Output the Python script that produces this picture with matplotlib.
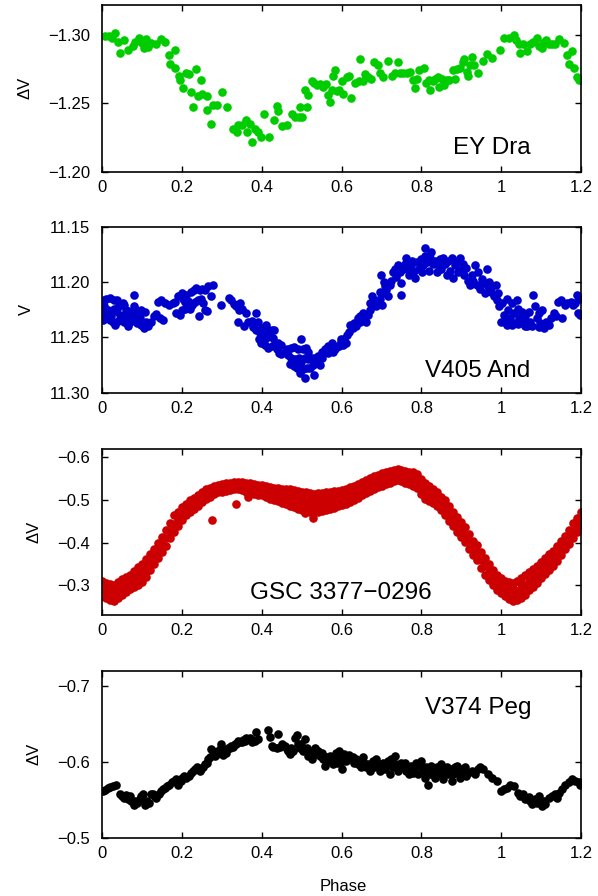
import matplotlib
matplotlib.use('Agg')
import matplotlib.pyplot as plt

plt.rcParams['font.family'] = ['Liberation Sans', 'DejaVu Sans']
plt.rcParams['font.size'] = 12

# EY Dra: (phase, delta V)
ey_dra = [
    (0.007, -1.299), (0.017, -1.299), (0.025, -1.298), (0.032, -1.301), (0.040, -1.295),
    (0.045, -1.287), (0.053, -1.296), (0.065, -1.289), (0.076, -1.292), (0.082, -1.295),
    (0.091, -1.298), (0.099, -1.294), (0.103, -1.290), (0.109, -1.297), (0.115, -1.291),
    (0.122, -1.294), (0.133, -1.293), (0.146, -1.297), (0.157, -1.295), (0.168, -1.285),
    (0.170, -1.279), (0.181, -1.289), (0.181, -1.276), (0.191, -1.270), (0.195, -1.267),
    (0.202, -1.261), (0.210, -1.272), (0.216, -1.271), (0.223, -1.258), (0.227, -1.247),
    (0.235, -1.275), (0.239, -1.255), (0.247, -1.267), (0.250, -1.257), (0.261, -1.255),
    (0.262, -1.245), (0.271, -1.235), (0.276, -1.249), (0.288, -1.249), (0.301, -1.258),
    (0.313, -1.247), (0.328, -1.231), (0.338, -1.229), (0.340, -1.234), (0.351, -1.234),
    (0.360, -1.238), (0.363, -1.229), (0.371, -1.235), (0.376, -1.222), (0.382, -1.231),
    (0.391, -1.229), (0.397, -1.225), (0.405, -1.242), (0.417, -1.225), (0.429, -1.238),
    (0.437, -1.248), (0.440, -1.244), (0.451, -1.233), (0.462, -1.234), (0.475, -1.242),
    (0.484, -1.240), (0.494, -1.240), (0.496, -1.247), (0.500, -1.240), (0.508, -1.260),
    (0.512, -1.247), (0.516, -1.256), (0.525, -1.266), (0.531, -1.265), (0.537, -1.263),
    (0.546, -1.264), (0.554, -1.262), (0.561, -1.264), (0.566, -1.256), (0.571, -1.251),
    (0.575, -1.260), (0.579, -1.270), (0.583, -1.274), (0.587, -1.259), (0.594, -1.260),
    (0.600, -1.266), (0.604, -1.257), (0.613, -1.269), (0.619, -1.270), (0.623, -1.254),
    (0.634, -1.265), (0.644, -1.266), (0.646, -1.282), (0.653, -1.266), (0.659, -1.271),
    (0.667, -1.269), (0.673, -1.268), (0.681, -1.280), (0.690, -1.278), (0.696, -1.272),
    (0.703, -1.269), (0.715, -1.281), (0.726, -1.270), (0.734, -1.272), (0.740, -1.280),
    (0.746, -1.272), (0.755, -1.272), (0.763, -1.272), (0.772, -1.273), (0.778, -1.267),
    (0.784, -1.261), (0.790, -1.268), (0.795, -1.274), (0.807, -1.276), (0.812, -1.265),
    (0.818, -1.267), (0.822, -1.260), (0.829, -1.266), (0.834, -1.268), (0.841, -1.269),
    (0.845, -1.262), (0.851, -1.268), (0.857, -1.263), (0.864, -1.267), (0.870, -1.267),
    (0.879, -1.274), (0.885, -1.268), (0.890, -1.275), (0.897, -1.276), (0.904, -1.280),
    (0.907, -1.282), (0.914, -1.273), (0.918, -1.270), (0.922, -1.278), (0.926, -1.284),
    (0.932, -1.278), (0.941, -1.272), (0.954, -1.281), (0.964, -1.286), (0.977, -1.283),
    (0.998, -1.289), (1.008, -1.298), (1.019, -1.298), (1.031, -1.300), (1.036, -1.296),
    (1.044, -1.293), (1.048, -1.287), (1.055, -1.293), (1.065, -1.288), (1.073, -1.293),
    (1.081, -1.295), (1.091, -1.298), (1.096, -1.292), (1.102, -1.290), (1.108, -1.295),
    (1.113, -1.296), (1.119, -1.293), (1.127, -1.293), (1.136, -1.293), (1.144, -1.297),
    (1.157, -1.294), (1.165, -1.285), (1.169, -1.279), (1.178, -1.288), (1.183, -1.276),
    (1.190, -1.269), (1.196, -1.267),
]

# V405 And: (phase, V)
v405_and = [
    (0.003, 11.216), (0.009, 11.215), (0.018, 11.214), (0.030, 11.216), (0.037, 11.216),
    (0.001, 11.225), (0.005, 11.222), (0.013, 11.225), (0.022, 11.227), (0.028, 11.224),
    (0.034, 11.226), (0.040, 11.223), (0.051, 11.219), (0.055, 11.221), (0.059, 11.225),
    (0.065, 11.226), (0.072, 11.228), (0.079, 11.212), (0.080, 11.222), (0.085, 11.225),
    (0.089, 11.228), (0.097, 11.225), (0.106, 11.227), (0.001, 11.234), (0.009, 11.233),
    (0.018, 11.234), (0.026, 11.236), (0.032, 11.239), (0.039, 11.235), (0.047, 11.233),
    (0.055, 11.236), (0.064, 11.240), (0.070, 11.236), (0.079, 11.234), (0.087, 11.237),
    (0.096, 11.239), (0.104, 11.242), (0.114, 11.240), (0.122, 11.236), (0.129, 11.231),
    (0.135, 11.229), (0.143, 11.233), (0.152, 11.234), (0.005, 11.230), (0.022, 11.231),
    (0.043, 11.230), (0.059, 11.231), (0.076, 11.231), (0.093, 11.233), (0.110, 11.236),
    (0.139, 11.218), (0.146, 11.216), (0.156, 11.219), (0.166, 11.221), (0.177, 11.219),
    (0.183, 11.218), (0.189, 11.213), (0.196, 11.212), (0.202, 11.215), (0.208, 11.218),
    (0.215, 11.217), (0.185, 11.228), (0.194, 11.230), (0.199, 11.225), (0.206, 11.224),
    (0.219, 11.224), (0.225, 11.221), (0.231, 11.218), (0.240, 11.216), (0.246, 11.215),
    (0.252, 11.219), (0.230, 11.207), (0.235, 11.205), (0.244, 11.207), (0.250, 11.206),
    (0.256, 11.207), (0.265, 11.204), (0.271, 11.213), (0.277, 11.203), (0.241, 11.231),
    (0.256, 11.225), (0.263, 11.226), (0.199, 11.210), (0.210, 11.212), (0.223, 11.209),
    (0.298, 11.221), (0.317, 11.214), (0.323, 11.216), (0.330, 11.220), (0.336, 11.222),
    (0.342, 11.225), (0.346, 11.219), (0.349, 11.224), (0.339, 11.236), (0.361, 11.228),
    (0.365, 11.236), (0.374, 11.235), (0.385, 11.228), (0.391, 11.236), (0.355, 11.240),
    (0.378, 11.241), (0.386, 11.243), (0.399, 11.242), (0.411, 11.239), (0.416, 11.243),
    (0.424, 11.243), (0.431, 11.243), (0.395, 11.246), (0.403, 11.249), (0.409, 11.251),
    (0.420, 11.249), (0.428, 11.251), (0.392, 11.252), (0.397, 11.255), (0.407, 11.257),
    (0.416, 11.260), (0.424, 11.258), (0.432, 11.256), (0.441, 11.255), (0.447, 11.257),
    (0.437, 11.261), (0.442, 11.264), (0.449, 11.265), (0.458, 11.263), (0.464, 11.261),
    (0.474, 11.260), (0.481, 11.259), (0.491, 11.261), (0.498, 11.252), (0.504, 11.261),
    (0.511, 11.260), (0.516, 11.263), (0.466, 11.266), (0.474, 11.269), (0.483, 11.270),
    (0.487, 11.273), (0.493, 11.269), (0.499, 11.272), (0.508, 11.269), (0.516, 11.270),
    (0.525, 11.269), (0.533, 11.269), (0.541, 11.267), (0.550, 11.269), (0.470, 11.274),
    (0.481, 11.276), (0.489, 11.278), (0.495, 11.282), (0.504, 11.279), (0.512, 11.278),
    (0.520, 11.278), (0.529, 11.275), (0.537, 11.272), (0.546, 11.275), (0.508, 11.287),
    (0.531, 11.284), (0.551, 11.263), (0.558, 11.261), (0.566, 11.258), (0.575, 11.255),
    (0.583, 11.260), (0.592, 11.258), (0.598, 11.252), (0.604, 11.255), (0.566, 11.264),
    (0.577, 11.263),
    (0.582, 11.261), (0.590, 11.258), (0.597, 11.254), (0.603, 11.257), (0.607, 11.252),
    (0.611, 11.255), (0.613, 11.248), (0.619, 11.245), (0.622, 11.239), (0.628, 11.242),
    (0.632, 11.237), (0.636, 11.240), (0.640, 11.233), (0.645, 11.231), (0.647, 11.236),
    (0.653, 11.228), (0.657, 11.233), (0.661, 11.236), (0.666, 11.230), (0.670, 11.225),
    (0.672, 11.219), (0.676, 11.213), (0.681, 11.216), (0.687, 11.222), (0.691, 11.218),
    (0.695, 11.215), (0.697, 11.209), (0.701, 11.221), (0.703, 11.210), (0.708, 11.204),
    (0.712, 11.207), (0.716, 11.213), (0.720, 11.203), (0.699, 11.194), (0.706, 11.200),
    (0.724, 11.199), (0.729, 11.191), (0.733, 11.188), (0.737, 11.195), (0.741, 11.185),
    (0.745, 11.191), (0.748, 11.212), (0.750, 11.201), (0.754, 11.188), (0.758, 11.184),
    (0.762, 11.178), (0.765, 11.188), (0.768, 11.194), (0.773, 11.185), (0.776, 11.181),
    (0.781, 11.190), (0.785, 11.196), (0.790, 11.182), (0.793, 11.188), (0.798, 11.179),
    (0.802, 11.191), (0.804, 11.185), (0.808, 11.176), (0.810, 11.169), (0.815, 11.182),
    (0.818, 11.190), (0.821, 11.178), (0.825, 11.173), (0.829, 11.184), (0.833, 11.181),
    (0.838, 11.191), (0.842, 11.185), (0.846, 11.179), (0.850, 11.188), (0.855, 11.178),
    (0.859, 11.184), (0.863, 11.194), (0.867, 11.181), (0.871, 11.190), (0.876, 11.178),
    (0.880, 11.196), (0.884, 11.185), (0.888, 11.181), (0.892, 11.191), (0.897, 11.178),
    (0.901, 11.188), (0.905, 11.184), (0.907, 11.194), (0.913, 11.187), (0.918, 11.199),
    (0.922, 11.203), (0.926, 11.194), (0.930, 11.199), (0.934, 11.185), (0.939, 11.203),
    (0.943, 11.191), (0.947, 11.206), (0.951, 11.197), (0.955, 11.201), (0.960, 11.210),
    (0.964, 11.188), (0.966, 11.204), (0.970, 11.200), (0.975, 11.209), (0.978, 11.204),
    (0.983, 11.213), (0.986, 11.203), (0.989, 11.216), (0.993, 11.210), (0.995, 11.222),
    (1.002, 11.219), (1.006, 11.230), (1.010, 11.236), (1.014, 11.215), (1.018, 11.225),
    (1.023, 11.233), (1.027, 11.219), (1.031, 11.228), (1.035, 11.237), (1.039, 11.216),
    (1.042, 11.224), (1.045, 11.233), (1.052, 11.227), (1.056, 11.236), (1.060, 11.231),
    (1.065, 11.240), (1.069, 11.227), (1.073, 11.236), (1.079, 11.212), (1.084, 11.222),
    (1.090, 11.233), (1.094, 11.228), (1.098, 11.237), (1.102, 11.225), (1.107, 11.242),
    (1.112, 11.236), (1.119, 11.239), (1.126, 11.233), (1.132, 11.228), (1.138, 11.231),
    (1.143, 11.218), (1.149, 11.216), (1.153, 11.233), (1.159, 11.221), (1.165, 11.219),
    (1.174, 11.218), (1.180, 11.221), (1.186, 11.219), (1.190, 11.212), (1.196, 11.215),
    (1.193, 11.228), (1.198, 11.230), (1.000, 11.236), (1.014, 11.239), (1.027, 11.239),
    (1.042, 11.238), (1.059, 11.240), (1.077, 11.240), (1.096, 11.241),
]

# GSC 3377-0296: phase grid with upper / middle / lower edge of the band (delta V)
gsc_phase = [
    0.00, 0.01, 0.02, 0.03, 0.04, 0.05, 0.06, 0.07, 0.08, 0.09,
    0.10, 0.11, 0.12, 0.13, 0.14, 0.15, 0.16, 0.17, 0.18, 0.19,
    0.20, 0.21, 0.22, 0.23, 0.24, 0.25, 0.26, 0.27, 0.28, 0.29,
    0.30, 0.31, 0.32, 0.33, 0.34, 0.35, 0.36, 0.37, 0.38, 0.39,
    0.40, 0.41, 0.42, 0.43, 0.44, 0.45, 0.46, 0.47, 0.48, 0.49,
    0.50, 0.51, 0.52, 0.53, 0.54, 0.55, 0.56, 0.57, 0.58, 0.59,
    0.60, 0.61, 0.62, 0.63, 0.64, 0.65, 0.66, 0.67, 0.68, 0.69,
    0.70, 0.71, 0.72, 0.73, 0.74, 0.75, 0.76, 0.77, 0.78, 0.79,
    0.80, 0.81, 0.82, 0.83, 0.84, 0.85, 0.86, 0.87, 0.88, 0.89,
    0.90, 0.91, 0.92, 0.93, 0.94, 0.95, 0.96, 0.97, 0.98, 0.99,
    1.00, 1.01, 1.02, 1.03, 1.04, 1.05, 1.06, 1.07, 1.08, 1.09,
    1.10, 1.11, 1.12, 1.13, 1.14, 1.15, 1.16, 1.17, 1.18, 1.19,
    1.20,
]
gsc_upper = [
    -0.309, -0.306, -0.303, -0.301, -0.308, -0.314, -0.319, -0.325, -0.333, -0.342,
    -0.351, -0.362, -0.374, -0.386, -0.399, -0.413, -0.429, -0.447, -0.464, -0.473,
    -0.483, -0.491, -0.499, -0.506, -0.513, -0.520, -0.525, -0.529, -0.533, -0.535,
    -0.538, -0.540, -0.541, -0.542, -0.542, -0.542, -0.541, -0.540, -0.538, -0.536,
    -0.535, -0.533, -0.531, -0.529, -0.528, -0.527, -0.527, -0.526, -0.524, -0.522,
    -0.519, -0.518, -0.516, -0.515, -0.516, -0.517, -0.518, -0.520, -0.521, -0.522,
    -0.524, -0.526, -0.530, -0.534, -0.538, -0.542, -0.547, -0.552, -0.557, -0.560,
    -0.563, -0.566, -0.568, -0.570, -0.572, -0.571, -0.569, -0.567, -0.566, -0.562,
    -0.550, -0.541, -0.533, -0.526, -0.518, -0.508, -0.499, -0.486, -0.473, -0.460,
    -0.448, -0.436, -0.420, -0.405, -0.394, -0.378, -0.363, -0.349, -0.335, -0.324,
    -0.316, -0.309, -0.307, -0.305, -0.310, -0.316, -0.323, -0.331, -0.338, -0.346,
    -0.355, -0.364, -0.373, -0.381, -0.392, -0.403, -0.416, -0.430, -0.445, -0.459,
    -0.472,
]
gsc_middle = [
    -0.291, -0.288, -0.285, -0.282, -0.289, -0.296, -0.301, -0.307, -0.314, -0.321,
    -0.330, -0.341, -0.355, -0.368, -0.381, -0.395, -0.411, -0.428, -0.444, -0.456,
    -0.468, -0.477, -0.485, -0.492, -0.500, -0.507, -0.513, -0.518, -0.523, -0.526,
    -0.529, -0.531, -0.532, -0.534, -0.534, -0.533, -0.530, -0.528, -0.526, -0.524,
    -0.523, -0.520, -0.517, -0.514, -0.512, -0.510, -0.508, -0.506, -0.503, -0.501,
    -0.497, -0.496, -0.494, -0.493, -0.494, -0.495, -0.497, -0.499, -0.501, -0.503,
    -0.506, -0.508, -0.512, -0.517, -0.522, -0.526, -0.531, -0.536, -0.541, -0.545,
    -0.548, -0.552, -0.554, -0.557, -0.559, -0.557, -0.555, -0.552, -0.550, -0.545,
    -0.532, -0.522, -0.515, -0.509, -0.502, -0.492, -0.481, -0.468, -0.455, -0.442,
    -0.430, -0.418, -0.403, -0.388, -0.376, -0.360, -0.344, -0.330, -0.317, -0.306,
    -0.298, -0.291, -0.287, -0.283, -0.287, -0.292, -0.300, -0.309, -0.317, -0.325,
    -0.335, -0.345, -0.354, -0.363, -0.375, -0.387, -0.400, -0.413, -0.427, -0.442,
    -0.456,
]
gsc_lower = [
    -0.274, -0.270, -0.266, -0.262, -0.270, -0.278, -0.284, -0.290, -0.295, -0.300,
    -0.308, -0.320, -0.336, -0.351, -0.364, -0.378, -0.393, -0.410, -0.425, -0.440,
    -0.454, -0.464, -0.472, -0.479, -0.487, -0.495, -0.502, -0.508, -0.514, -0.518,
    -0.520, -0.522, -0.524, -0.526, -0.527, -0.524, -0.520, -0.517, -0.515, -0.513,
    -0.511, -0.507, -0.503, -0.500, -0.497, -0.493, -0.490, -0.487, -0.483, -0.480,
    -0.476, -0.475, -0.473, -0.472, -0.473, -0.474, -0.476, -0.478, -0.482, -0.485,
    -0.488, -0.491, -0.495, -0.500, -0.506, -0.511, -0.516, -0.521, -0.526, -0.530,
    -0.534, -0.538, -0.541, -0.544, -0.546, -0.544, -0.541, -0.538, -0.534, -0.529,
    -0.514, -0.503, -0.498, -0.493, -0.486, -0.476, -0.464, -0.451, -0.438, -0.425,
    -0.413, -0.401, -0.386, -0.371, -0.359, -0.341, -0.325, -0.312, -0.300, -0.289,
    -0.281, -0.274, -0.268, -0.262, -0.265, -0.269, -0.278, -0.288, -0.296, -0.305,
    -0.316, -0.326, -0.336, -0.346, -0.358, -0.371, -0.384, -0.397, -0.410, -0.425,
    -0.441,
]
# extra points inside the thickest parts of the band
gsc_fill = [
    (0.01, -0.297), (0.01, -0.279), (0.03, -0.292), (0.03, -0.272), (0.10, -0.340),
    (0.10, -0.319), (0.11, -0.351), (0.11, -0.330), (0.46, -0.517), (0.46, -0.499),
    (0.48, -0.513), (0.48, -0.493), (0.50, -0.508), (0.50, -0.487), (0.52, -0.505),
    (0.52, -0.484), (0.54, -0.505), (0.54, -0.484), (0.56, -0.507), (0.56, -0.486),
    (0.58, -0.511), (0.58, -0.491), (0.60, -0.515), (0.60, -0.497), (0.80, -0.541),
    (0.80, -0.523), (1.02, -0.297), (1.02, -0.277), (1.03, -0.294), (1.03, -0.272),
    (1.05, -0.304), (1.05, -0.280),
]
gsc_outliers = [
    (0.275, -0.454), (0.336, -0.491), (0.365, -0.507), (0.508, -0.469), (0.529, -0.458),
]

# V374 Peg: (phase, delta V)
v374_peg = [
    (0.001, -0.562), (0.007, -0.563), (0.013, -0.565), (0.020, -0.567), (0.026, -0.568),
    (0.034, -0.570), (0.043, -0.558), (0.049, -0.555), (0.055, -0.553), (0.059, -0.556),
    (0.064, -0.551), (0.068, -0.555), (0.072, -0.549), (0.079, -0.543), (0.082, -0.548),
    (0.087, -0.546), (0.093, -0.551), (0.097, -0.555), (0.101, -0.557), (0.104, -0.548),
    (0.107, -0.543), (0.112, -0.549), (0.116, -0.546), (0.121, -0.557), (0.127, -0.558),
    (0.131, -0.554), (0.135, -0.552), (0.141, -0.557), (0.146, -0.562), (0.152, -0.564),
    (0.156, -0.566), (0.163, -0.568), (0.168, -0.570), (0.174, -0.573), (0.179, -0.575),
    (0.185, -0.577), (0.189, -0.570), (0.196, -0.575), (0.199, -0.579), (0.204, -0.582),
    (0.210, -0.579), (0.216, -0.582), (0.223, -0.585), (0.227, -0.588), (0.231, -0.590),
    (0.238, -0.593), (0.244, -0.588), (0.248, -0.590), (0.252, -0.593), (0.256, -0.597),
    (0.261, -0.599), (0.265, -0.604), (0.269, -0.607), (0.273, -0.617), (0.277, -0.615),
    (0.282, -0.608), (0.286, -0.611), (0.290, -0.615), (0.294, -0.617), (0.298, -0.624),
    (0.303, -0.609), (0.307, -0.615), (0.311, -0.612), (0.315, -0.619), (0.319, -0.618),
    (0.323, -0.621), (0.328, -0.620), (0.332, -0.624), (0.336, -0.623), (0.340, -0.628),
    (0.344, -0.626), (0.349, -0.626), (0.353, -0.629), (0.357, -0.627), (0.361, -0.631),
    (0.365, -0.630), (0.370, -0.632), (0.374, -0.626), (0.378, -0.629), (0.382, -0.627),
    (0.386, -0.639), (0.389, -0.630), (0.414, -0.642), (0.420, -0.633), (0.424, -0.621),
    (0.428, -0.620), (0.437, -0.619), (0.439, -0.637), (0.445, -0.620), (0.451, -0.624),
    (0.458, -0.621), (0.462, -0.617), (0.466, -0.615), (0.470, -0.611), (0.474, -0.619),
    (0.478, -0.615), (0.483, -0.632), (0.487, -0.635), (0.491, -0.624), (0.495, -0.619),
    (0.499, -0.623), (0.504, -0.615), (0.508, -0.630), (0.512, -0.619), (0.516, -0.608),
    (0.520, -0.609), (0.525, -0.604), (0.529, -0.615), (0.533, -0.619), (0.537, -0.610),
    (0.541, -0.615), (0.546, -0.608), (0.550, -0.612), (0.554, -0.604), (0.558, -0.595),
    (0.562, -0.606), (0.566, -0.601), (0.571, -0.608), (0.575, -0.604), (0.579, -0.597),
    (0.583, -0.604), (0.587, -0.599), (0.592, -0.610), (0.596, -0.599), (0.600, -0.590),
    (0.604, -0.601),
    (0.586, -0.612), (0.594, -0.615), (0.598, -0.604), (0.603, -0.608), (0.607, -0.610),
    (0.611, -0.601), (0.615, -0.606), (0.619, -0.609), (0.624, -0.604), (0.628, -0.607),
    (0.632, -0.599), (0.636, -0.604), (0.640, -0.597), (0.645, -0.601), (0.649, -0.593),
    (0.653, -0.606), (0.657, -0.599), (0.661, -0.593), (0.666, -0.597), (0.670, -0.588),
    (0.674, -0.595), (0.678, -0.601), (0.682, -0.593), (0.687, -0.604), (0.691, -0.595),
    (0.695, -0.588), (0.699, -0.597), (0.703, -0.599), (0.708, -0.590), (0.712, -0.595),
    (0.716, -0.601), (0.720, -0.584), (0.724, -0.604), (0.729, -0.593), (0.733, -0.608),
    (0.737, -0.597), (0.741, -0.588), (0.745, -0.595), (0.750, -0.599), (0.754, -0.593),
    (0.758, -0.599), (0.762, -0.588), (0.766, -0.593), (0.770, -0.584), (0.775, -0.595),
    (0.779, -0.586), (0.783, -0.593), (0.787, -0.599), (0.792, -0.584), (0.796, -0.595),
    (0.800, -0.601), (0.804, -0.588), (0.808, -0.579), (0.812, -0.593), (0.817, -0.570),
    (0.821, -0.584), (0.825, -0.595), (0.829, -0.588), (0.834, -0.579), (0.838, -0.593),
    (0.842, -0.584), (0.846, -0.590), (0.850, -0.597), (0.855, -0.577), (0.859, -0.586),
    (0.863, -0.593), (0.867, -0.584), (0.871, -0.590), (0.876, -0.575), (0.880, -0.584),
    (0.884, -0.593), (0.888, -0.595), (0.892, -0.586), (0.897, -0.579), (0.901, -0.590),
    (0.905, -0.584), (0.909, -0.593), (0.913, -0.582), (0.918, -0.586), (0.926, -0.588),
    (0.934, -0.584), (0.943, -0.590), (0.947, -0.593), (0.955, -0.590), (0.968, -0.584),
    (0.976, -0.579), (0.989, -0.575), (1.000, -0.562), (1.006, -0.564), (1.014, -0.566),
    (1.023, -0.570), (1.031, -0.568), (1.042, -0.559), (1.048, -0.555), (1.056, -0.557),
    (1.060, -0.551), (1.069, -0.554), (1.073, -0.548), (1.077, -0.544), (1.084, -0.551),
    (1.090, -0.546), (1.096, -0.555), (1.102, -0.542), (1.107, -0.548), (1.111, -0.544),
    (1.119, -0.553), (1.128, -0.555), (1.136, -0.557), (1.140, -0.553), (1.146, -0.559),
    (1.153, -0.564), (1.161, -0.570), (1.170, -0.573), (1.178, -0.577), (1.186, -0.575),
    (1.195, -0.573), (1.199, -0.570),
]

x_ticks = [0, 0.2, 0.4, 0.6, 0.8, 1.0, 1.2]
x_labels = ['0', '0.2', '0.4', '0.6', '0.8', '1', '1.2']


def style_axis(ax, ylim, yticks, ylabels, ylabel):
    ax.set_xlim(0, 1.2)
    ax.set_ylim(*ylim)
    ax.set_xticks(x_ticks)
    ax.set_xticklabels(x_labels)
    ax.set_yticks(yticks)
    ax.set_yticklabels(ylabels)
    ax.tick_params(direction='in', top=True, right=True, length=4, width=1,
                   labelsize=12, colors='black')
    ax.tick_params(axis='x', pad=6)
    ax.tick_params(axis='y', pad=9)
    for s in ax.spines.values():
        s.set_linewidth(1.2)
    ax.set_ylabel(ylabel, fontsize=12, labelpad=11)


def dots(ax, x, y, color):
    ax.plot(x, y, linestyle='none', marker='o', ms=6.2, color=color, mec='none')


fig = plt.figure(figsize=(5.98, 8.96), dpi=100)
left, width = 0.1714, 0.800
ax1 = fig.add_axes([left, 0.8084, width, 0.1864])
ax2 = fig.add_axes([left, 0.5619, width, 0.1850])
ax3 = fig.add_axes([left, 0.3136, width, 0.1853])
ax4 = fig.add_axes([left, 0.0651, width, 0.1860])

# EY Dra
ph, mag = zip(*ey_dra)
dots(ax1, ph, mag, '#00cc00')
style_axis(ax1, (-1.20, -1.322), [-1.30, -1.25, -1.20],
           ['\u22121.30', '\u22121.25', '\u22121.20'], '\u0394V')
ax1.text(0.7325, 0.106, 'EY Dra', transform=ax1.transAxes, fontsize=17.5,
         ha='left', va='baseline')

# V405 And
ph, mag = zip(*v405_and)
dots(ax2, ph, mag, '#0000cc')
style_axis(ax2, (11.30, 11.15), [11.15, 11.20, 11.25, 11.30],
           ['11.15', '11.20', '11.25', '11.30'], 'V')
ax2.text(0.674, 0.0935, 'V405 And', transform=ax2.transAxes, fontsize=17.5,
         ha='left', va='baseline')

# GSC 3377-0296
for row in (gsc_upper, gsc_middle, gsc_lower):
    dots(ax3, gsc_phase, row, '#cc0000')
for extra in (gsc_fill, gsc_outliers):
    ph, mag = zip(*extra)
    dots(ax3, ph, mag, '#cc0000')
style_axis(ax3, (-0.23, -0.62), [-0.6, -0.5, -0.4, -0.3],
           ['\u22120.6', '\u22120.5', '\u22120.4', '\u22120.3'], '\u0394V')
ax3.text(0.308, 0.096, 'GSC 3377\u22120296', transform=ax3.transAxes, fontsize=17.5,
         ha='left', va='baseline')

# V374 Peg
ph, mag = zip(*v374_peg)
dots(ax4, ph, mag, 'black')
style_axis(ax4, (-0.5, -0.72), [-0.7, -0.6, -0.5],
           ['\u22120.7', '\u22120.6', '\u22120.5'], '\u0394V')
ax4.text(0.674, 0.744, 'V374 Peg', transform=ax4.transAxes, fontsize=17.5,
         ha='left', va='baseline')

fig.text(343 / 598, 1 - 891 / 896, 'Phase', ha='center', va='baseline', fontsize=12)

fig.savefig('out.png', dpi=100)
